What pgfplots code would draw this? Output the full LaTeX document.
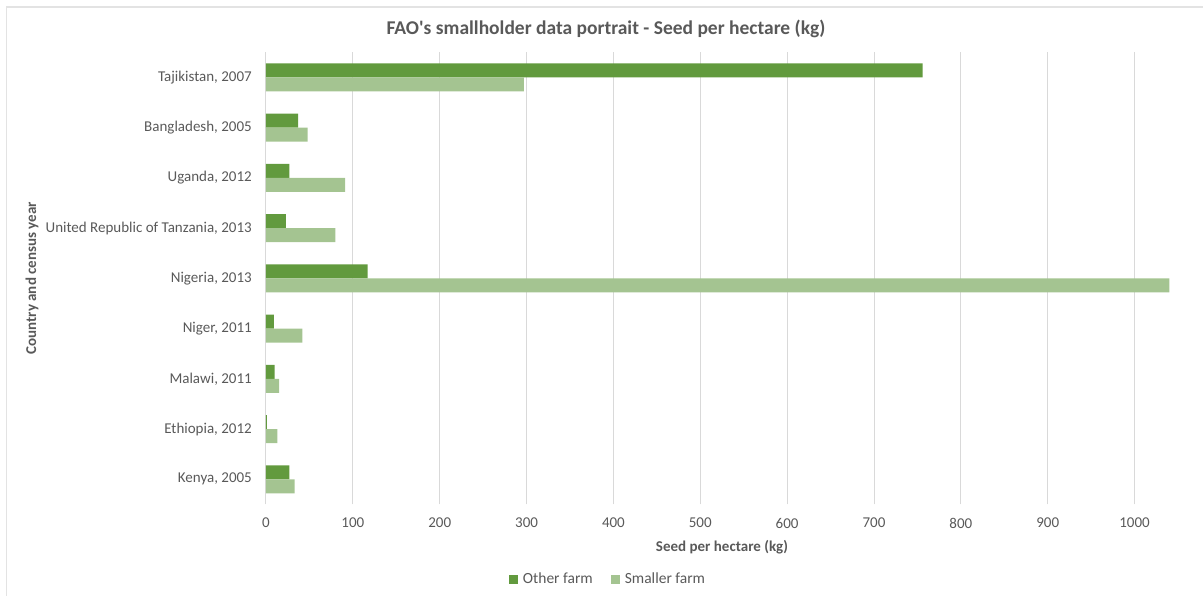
\documentclass[border=0pt]{standalone}
\usepackage{pgfplots}
\pgfplotsset{compat=1.18}
\usepackage{fontspec}
\setmainfont{Carlito}
\definecolor{otherfarm}{HTML}{629A3E}
\definecolor{smallerfarm}{HTML}{A4C491}
\definecolor{txtgray}{HTML}{595959}
\definecolor{gridgray}{HTML}{D9D9D9}
\definecolor{framegray}{HTML}{E3E3E3}

\begin{document}
\begin{tikzpicture}[x=1pt,y=1pt]
  \path[use as bounding box] (0,0) rectangle (1203,596);
  % light frame of the chart area (top and left edges visible)
  \draw[framegray, line width=1.2pt] (6.5,0) -- (6.5,589) -- (1203,589);

  \node[text=txtgray, font=\fontsize{19.5}{23}\selectfont\bfseries] at (606,567)
    {FAO\textquotesingle s smallholder data portrait - Seed per hectare (kg)};

  \begin{axis}[
      at={(266pt,91.6pt)}, anchor=south west,
      scale only axis, width=912pt, height=452.2pt,
      xbar, bar width=14pt,
      xmin=0, xmax=1050, ymin=-0.5, ymax=8.5,
      xtick={0,100,...,1000},
      ytick={0,...,8},
      yticklabels={{Kenya, 2005}, {Ethiopia, 2012}, {Malawi, 2011}, {Niger, 2011},
        {Nigeria, 2013}, {United Republic of Tanzania, 2013}, {Uganda, 2012},
        {Bangladesh, 2005}, {Tajikistan, 2007}},
      xmajorgrids, major grid style={gridgray, line width=1pt},
      axis line style={draw=none}, major tick length=0pt,
      /pgf/number format/assume math mode=true,
      /pgf/number format/1000 sep={},
      ticklabel style={text=txtgray, font=\fontsize{15}{18}\selectfont},
      yticklabel style={inner sep=0pt, xshift=-14pt},
      xticklabel style={inner sep=0pt, anchor=center, yshift=-18.6pt},
      xlabel={Seed per hectare (kg)},
      ylabel={Country and census year},
      label style={text=txtgray, font=\fontsize{15}{18}\selectfont\bfseries},
      xlabel style={at={(axis description cs:0.5,-0.094)}, anchor=center},
      ylabel style={at={(axis description cs:-0.2566,0.5)}, anchor=center},
      legend style={at={(axis description cs:0.375,-0.165)}, anchor=center,
        draw=none, fill=none, legend columns=2, text=txtgray,
        font=\fontsize{15.5}{18}\selectfont,
        /tikz/every odd column/.append style={column sep=3pt},
        /tikz/every even column/.append style={column sep=16pt}},
      legend image code/.code={\fill[#1] (0pt,-4.5pt) rectangle (9pt,4.5pt);},
    ]
    \addplot[fill=otherfarm, draw=none, bar shift=7pt] coordinates {
      (27,0) (1,1) (10,2) (9,3) (117,4) (23,5) (27,6) (37,7) (756,8)};
    \addplot[fill=smallerfarm, draw=none, bar shift=-7pt] coordinates {
      (33,0) (13,1) (15,2) (42,3) (1040,4) (80,5) (91,6) (48,7) (297,8)};
    \legend{Other farm, Smaller farm}
  \end{axis}
\end{tikzpicture}
\end{document}
